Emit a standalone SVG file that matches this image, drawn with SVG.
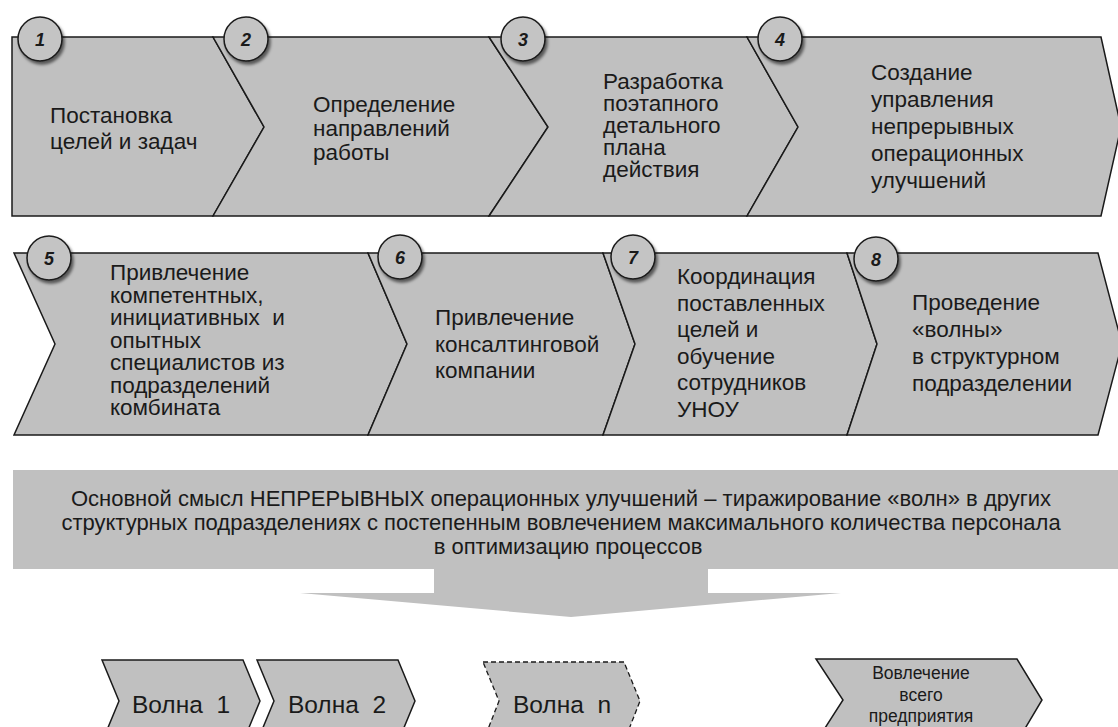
<svg xmlns="http://www.w3.org/2000/svg" width="1118" height="727" viewBox="0 0 1118 727">
<defs>
<style>
.chev{fill:#c0c0c0;stroke:#1a1a1a;stroke-width:1.5;stroke-linejoin:miter}
.dash{fill:#c0c0c0;stroke:#1a1a1a;stroke-width:1.3;stroke-dasharray:5 3}
.t{font-family:"Liberation Sans",Arial,sans-serif;font-size:22.5px;fill:#1a1a1a}
.num{font-family:"Liberation Sans",Arial,sans-serif;font-size:18px;font-weight:bold;font-style:italic;fill:#1a1a1a;text-anchor:middle}
.circ{fill:#c4c4c4;stroke:#1a1a1a;stroke-width:1.5;filter:url(#sh)}
.ban{font-family:"Liberation Sans",Arial,sans-serif;font-size:22px;fill:#1a1a1a;text-anchor:middle}
.w{font-family:"Liberation Sans",Arial,sans-serif;font-size:24.5px;fill:#1a1a1a;text-anchor:middle}
.ws{font-family:"Liberation Sans",Arial,sans-serif;font-size:17.5px;fill:#1a1a1a;text-anchor:middle}
</style>
<filter id="sh" x="-30%" y="-30%" width="170%" height="170%">
<feDropShadow dx="2" dy="3" stdDeviation="1.5" flood-color="#000" flood-opacity="0.55"/>
</filter>
</defs>
<rect width="1118" height="727" fill="#fff"/>

<!-- Row 1 -->
<g id="step1">
<polygon class="chev" points="12,37 213,37 264,127 213,216 12,216"/>
<text class="t" x="50" y="123">Постановка<tspan x="50" y="149">целей и задач</tspan></text>
</g>
<g id="step2">
<polygon class="chev" points="213,37 489,37 548,127 489,216 213,216 264,127"/>
<text class="t" x="313" y="112">Определение<tspan x="313" y="136">направлений</tspan><tspan x="313" y="160">работы</tspan></text>
</g>
<g id="step3">
<polygon class="chev" points="489,37 747,37 798,127 747,216 489,216 548,127"/>
<text class="t" x="603" y="89">Разработка<tspan x="603" y="111">поэтапного</tspan><tspan x="603" y="133">детального</tspan><tspan x="603" y="155">плана</tspan><tspan x="603" y="177">действия</tspan></text>
</g>
<g id="step4">
<polygon class="chev" points="747,37 1101,37 1121,127 1101,216 747,216 798,127"/>
<text class="t" x="871" y="80">Создание<tspan x="871" y="107">управления</tspan><tspan x="871" y="134">непрерывных</tspan><tspan x="871" y="161">операционных</tspan><tspan x="871" y="188">улучшений</tspan></text>
</g>

<!-- Row 2 -->
<g id="step5">
<polygon class="chev" points="14,253 368,253 407,344 368,435 14,435 55,344"/>
<text class="t" x="110" y="280">Привлечение<tspan x="110" y="302.5">компетентных,</tspan><tspan x="110" y="325">инициативных&#160; и</tspan><tspan x="110" y="347.5">опытных</tspan><tspan x="110" y="370">специалистов из</tspan><tspan x="110" y="392.5">подразделений</tspan><tspan x="110" y="415">комбината</tspan></text>
</g>
<g id="step6">
<polygon class="chev" points="368,253 603,253 635,344 603,435 368,435 407,344"/>
<text class="t" x="435" y="325">Привлечение<tspan x="435" y="351.5">консалтинговой</tspan><tspan x="435" y="378">компании</tspan></text>
</g>
<g id="step7">
<polygon class="chev" points="603,253 847,253 877,344 847,435 603,435 635,344"/>
<text class="t" x="677" y="284">Координация<tspan x="677" y="310.5">поставленных</tspan><tspan x="677" y="337">целей и</tspan><tspan x="677" y="363.5">обучение</tspan><tspan x="677" y="390">сотрудников</tspan><tspan x="677" y="416.5">УНОУ</tspan></text>
</g>
<g id="step8">
<polygon class="chev" points="847,253 1098,253 1122,344 1098,435 847,435 877,344"/>
<text class="t" x="912" y="310">Проведение<tspan x="912" y="337">«волны»</tspan><tspan x="912" y="364">в структурном</tspan><tspan x="912" y="391">подразделении</tspan></text>
</g>

<!-- Number badges -->
<g id="badges">
<g id="badge1"><circle class="circ" cx="40" cy="39" r="22"/><text class="num" x="40" y="46">1</text></g>
<g id="badge2"><circle class="circ" cx="246" cy="39" r="22"/><text class="num" x="246" y="46">2</text></g>
<g id="badge3"><circle class="circ" cx="523" cy="39" r="22"/><text class="num" x="523" y="46">3</text></g>
<g id="badge4"><circle class="circ" cx="780" cy="39" r="22"/><text class="num" x="780" y="46">4</text></g>
<g id="badge5"><circle class="circ" cx="49" cy="258" r="22"/><text class="num" x="49" y="265">5</text></g>
<g id="badge6"><circle class="circ" cx="400" cy="257" r="22"/><text class="num" x="400" y="264">6</text></g>
<g id="badge7"><circle class="circ" cx="633" cy="257" r="22"/><text class="num" x="633" y="264">7</text></g>
<g id="badge8"><circle class="circ" cx="876" cy="259" r="22"/><text class="num" x="876" y="266">8</text></g>
</g>

<!-- Banner and big arrow -->
<g id="banner">
<rect x="13" y="470" width="1105" height="99" fill="#c0c0c0"/>
<text class="ban" x="561" y="506">Основной смысл НЕПРЕРЫВНЫХ операционных улучшений – тиражирование «волн» в других<tspan x="561" y="530">структурных подразделениях с постепенным вовлечением максимального количества персонала</tspan><tspan x="568" y="554">в оптимизацию процессов</tspan></text>
</g>
<g id="connectors">
<polygon points="434,568 708,568 708,593 841,593 571,617 300,593 434,593" fill="#c0c0c0"/>
</g>

<!-- Waves -->
<g id="wave1">
<polygon class="chev" points="102,660 243,660 260,701 243,742 102,742 119,701"/>
<text class="w" x="181" y="713">Волна&#160; 1</text>
</g>
<g id="wave2">
<polygon class="chev" points="257,660 398,660 415,701 398,742 257,742 274,701"/>
<text class="w" x="337" y="713">Волна&#160; 2</text>
</g>
<g id="waven">
<polygon class="dash" points="483,662 624,662 640,701 624,742 483,742 499,701"/>
<text class="w" x="562" y="713">Волна&#160; n</text>
</g>
<g id="wavefinal">
<polygon class="chev" points="816,659 1017,659 1042,700 1017,742 816,742 843,700"/>
<text class="ws" x="921" y="679">Вовлечение<tspan x="921" y="701">всего</tspan><tspan x="921" y="722">предприятия</tspan></text>
</g>
</svg>
